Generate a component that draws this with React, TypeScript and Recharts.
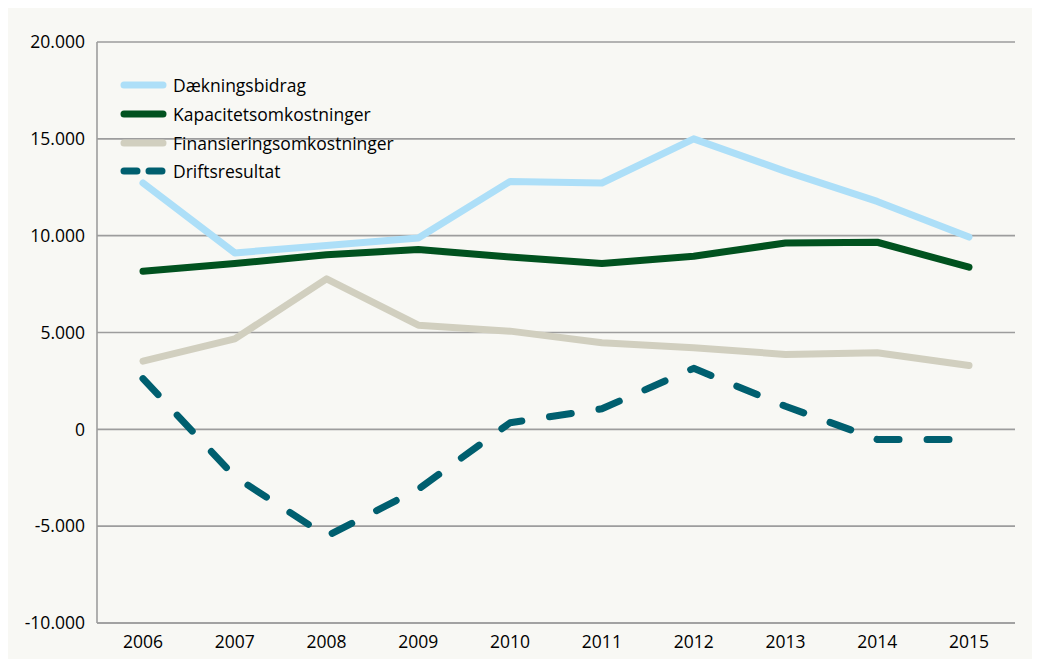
import { LineChart, Line, XAxis, YAxis, CartesianGrid, Legend } from "recharts";

const years = ["2006", "2007", "2008", "2009", "2010", "2011", "2012", "2013", "2014", "2015"];
const daekningsbidrag = [12720, 9110, 9490, 9880, 12800, 12720, 15000, 13320, 11770, 9930];
const kapacitetsomkostninger = [8160, 8560, 9020, 9280, 8900, 8560, 8940, 9620, 9660, 8370];
const finansieringsomkostninger = [3520, 4670, 7770, 5380, 5070, 4470, 4210, 3870, 3950, 3300];
const driftsresultat = [2620, -2440, -5520, -3090, 340, 1060, 3150, 1190, -520, -520];
const yTicks = [-10000, -5000, 0, 5000, 10000, 15000, 20000];

const series = [
  { key: "daek", name: "Dækningsbidrag", color: "#addff8", dash: undefined as string | undefined },
  { key: "kap", name: "Kapacitetsomkostninger", color: "#01521f", dash: undefined },
  { key: "fin", name: "Finansieringsomkostninger", color: "#d1cfbf", dash: undefined },
  { key: "drift", name: "Driftsresultat", color: "#005f6f", dash: "22 28" },
];

const data = years.map((year, i) => ({
  year,
  daek: daekningsbidrag[i],
  kap: kapacitetsomkostninger[i],
  fin: finansieringsomkostninger[i],
  drift: driftsresultat[i],
}));

const font = "'Open Sans', sans-serif";
const fontSize = 17.5;

function fmt(v: number) {
  if (v === 0) return "0";
  const s = String(Math.abs(v)).replace(/\B(?=(\d{3})+(?!\d))/g, ".");
  return (v < 0 ? "-" : "") + s;
}

function LegendBox() {
  return (
    <div style={{ fontFamily: font, fontSize, color: "#000", lineHeight: "20px" }}>
      {series.map((s) => (
        <div key={s.key} style={{ display: "flex", alignItems: "center", height: 28.7 }}>
          <svg width={50} height={12} style={{ marginRight: 3 }}>
            <line
              x1={4}
              y1={6}
              x2={43}
              y2={6}
              stroke={s.color}
              strokeWidth={7}
              strokeLinecap="round"
              strokeDasharray={s.dash ? "13 12" : undefined}
            />
          </svg>
          <span>{s.name}</span>
        </div>
      ))}
    </div>
  );
}

export default function App() {
  return (
    <div style={{ marginLeft: -2, width: 1034, height: 651, background: "#f8f8f4" }}>
      <LineChart
        width={1034}
        height={651}
        data={data}
        margin={{ top: 34, right: 25, left: 0, bottom: 5 }}
        style={{ fontFamily: font }}
      >
        <CartesianGrid vertical={false} stroke="#9d9d9d" strokeWidth={1.6} />
        <XAxis
          dataKey="year"
          height={31}
          padding={{ left: 46, right: 46 }}
          tickLine={false}
          tickSize={0}
          tickMargin={13}
          axisLine={{ stroke: "#9d9d9d", strokeWidth: 1.6 }}
          tick={{ fontSize, fill: "#000" }}
          interval={0}
        />
        <YAxis
          width={91}
          domain={[-10000, 20000]}
          ticks={yTicks}
          tickFormatter={fmt}
          tickLine={false}
          tickSize={0}
          tickMargin={12}
          axisLine={{ stroke: "#9d9d9d", strokeWidth: 1.6 }}
          tick={{ fontSize, fill: "#000" }}
          interval={0}
        />
        <Legend
          layout="horizontal"
          align="center"
          verticalAlign="middle"
          content={() => <LegendBox />}
          wrapperStyle={{ position: "absolute", left: 114, top: 63, width: 360 }}
        />
        {series.map((s) => (
          <Line
            key={s.key}
            type="linear"
            dataKey={s.key}
            name={s.name}
            stroke={s.color}
            strokeWidth={7}
            strokeLinecap="round"
            strokeLinejoin="round"
            strokeDasharray={s.dash}
            dot={false}
            activeDot={false}
            isAnimationActive={false}
          />
        ))}
      </LineChart>
    </div>
  );
}
